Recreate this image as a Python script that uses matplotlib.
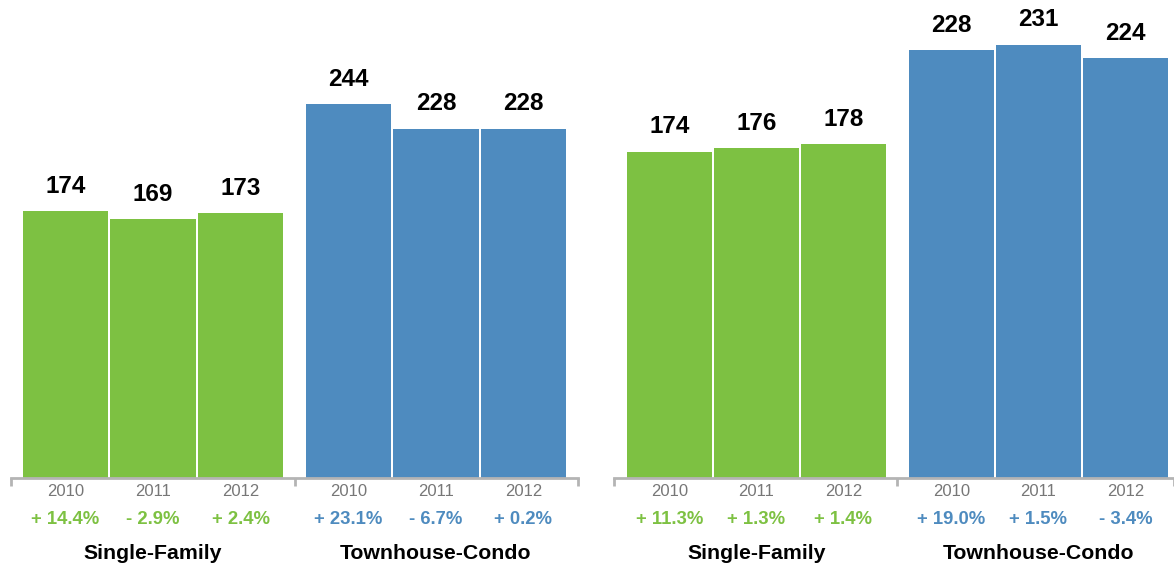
import matplotlib
matplotlib.use("Agg")
import matplotlib.pyplot as plt

plt.rcParams['font.family'] = ['Liberation Sans', 'DejaVu Sans']

# data for both panels
years = ['2010', '2011', '2012']
groups = ['Single-Family', 'Townhouse-Condo']

left_single = [174, 169, 173]
left_condo = [244, 228, 228]
left_single_pct = ['+ 14.4%', '- 2.9%', '+ 2.4%']
left_condo_pct = ['+ 23.1%', '- 6.7%', '+ 0.2%']

right_single = [174, 176, 178]
right_condo = [228, 231, 224]
right_single_pct = ['+ 11.3%', '+ 1.3%', '+ 1.4%']
right_condo_pct = ['+ 19.0%', '+ 1.5%', '- 3.4%']

GREEN = '#7dc142'
BLUE = '#4e8bbf'
AXIS_GRAY = '#b4b4b4'

W, H = 1174, 565
fig = plt.figure(figsize=(W / 100, H / 100), dpi=100)


def panel(x0, x1, ymax, gap, xlim, mid, single, condo, single_pct, condo_pct):
    base = 478
    ax = fig.add_axes([x0 / W, (H - base) / H, (x1 - x0) / W, base / H])
    pos_s = [0, 1, 2]
    pos_c = [p + gap for p in pos_s]
    ax.bar(pos_s, single, width=0.978, color=GREEN, linewidth=0)
    ax.bar(pos_c, condo, width=0.978, color=BLUE, linewidth=0)
    ax.set_xlim(*xlim)
    ax.set_ylim(0, ymax)
    for s in ['left', 'right', 'top']:
        ax.spines[s].set_visible(False)
    ax.spines['bottom'].set_color(AXIS_GRAY)
    ax.spines['bottom'].set_linewidth(2)
    ax.set_yticks([])
    ax.set_xticks([xlim[0], mid, xlim[1]])
    ax.set_xticklabels([])
    ax.tick_params(axis='x', direction='out', length=6, width=2, color=AXIS_GRAY)

    for pos, vals, pcts, col in [(pos_s, single, single_pct, GREEN),
                                 (pos_c, condo, condo_pct, BLUE)]:
        for p, v, yr, pc in zip(pos, vals, years, pcts):
            ax.annotate(str(v), (p, v), xytext=(0, 17.8), textcoords='offset points',
                        ha='center', va='center', fontsize=17.5, fontweight='bold',
                        color='black', annotation_clip=False)
            ax.annotate(yr, (p, 0), xytext=(0, -10), textcoords='offset points',
                        ha='center', va='center', fontsize=12, color='#777777',
                        annotation_clip=False)
            ax.annotate(pc, (p, 0), xytext=(0, -30), textcoords='offset points',
                        ha='center', va='center', fontsize=13.3, fontweight='bold',
                        color=col, annotation_clip=False)
    for pos, name in [(pos_s, groups[0]), (pos_c, groups[1])]:
        ax.annotate(name, (pos[1], 0), xytext=(0, -54.3), textcoords='offset points',
                    ha='center', va='center', fontsize=15.3, fontweight='bold',
                    color='black', annotation_clip=False)
    return ax


panel(11, 578, 312, 3.234, (-0.623, 5.857), 2.617,
      left_single, left_condo, left_single_pct, left_condo_pct)
panel(614, 1174, 254.8, 3.241, (-0.638, 5.80), 2.621,
      right_single, right_condo, right_single_pct, right_condo_pct)

fig.savefig('out.png', dpi=100)
